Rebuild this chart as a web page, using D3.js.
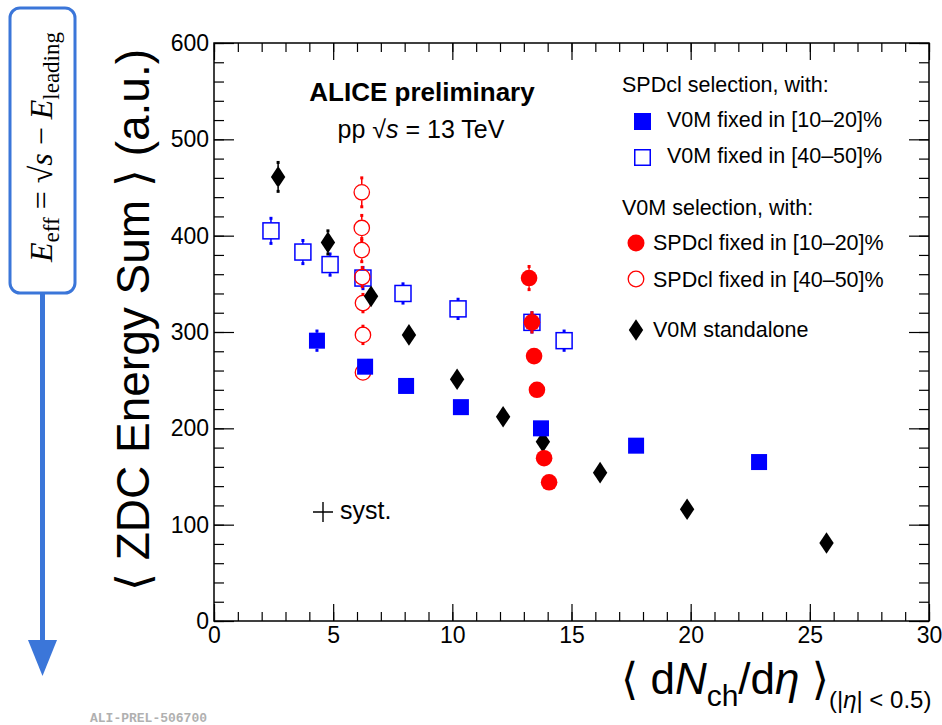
<!DOCTYPE html>
<html>
<head>
<meta charset="utf-8">
<script src="https://cdn.jsdelivr.net/npm/d3@7"></script>
<style>
  body { margin: 0; background: #fff; }
  svg text { font-family: "Liberation Sans", Arial, sans-serif; }
</style>
</head>
<body>
<svg id="chart" width="942" height="725"></svg>
<script>
//
// data
//

// SPDcl selection, V0M fixed in [10-20]%  (filled blue squares)
var blueFillX = [4.32, 6.34, 8.06, 10.36, 13.72, 17.71, 22.87];
var blueFillY = [291, 264, 244, 222, 200, 182, 165];
var blueFillE = [10, 8, 6, 6, 6, 6, 6];

// SPDcl selection, V0M fixed in [40-50]%  (open blue squares)
var blueOpenX = [2.39, 3.73, 4.87, 6.25, 7.93, 10.24, 13.34, 14.69];
var blueOpenY = [405, 383, 370, 356, 340, 324, 310, 291];
var blueOpenE = [13, 12, 11, 11, 10, 10, 10, 10];

// V0M selection, SPDcl fixed in [10-20]%  (filled red circles)
var redFillX = [13.22, 13.34, 13.43, 13.55, 13.85, 14.06];
var redFillY = [356, 310, 275, 240, 169, 144];
var redFillE = [12, 10, 8, 6, 5, 5];

// V0M selection, SPDcl fixed in [40-50]%  (open red circles)
var redOpenX = [6.2, 6.2, 6.2, 6.22, 6.25, 6.25, 6.25];
var redOpenY = [445, 408, 385, 357, 330, 297, 258];
var redOpenE = [15, 13, 12, 10, 9, 9, 8];

// V0M standalone  (black diamonds)
var blackX = [2.69, 4.78, 6.59, 8.18, 10.2, 12.13, 13.8, 16.2, 19.85, 25.7];
var blackY = [461, 393, 337, 297, 251, 212, 186, 154, 116, 81];
var blackE = [15, 12, 8, 6, 6, 5, 4, 4, 4, 4];

var xTicks = [0, 5, 10, 15, 20, 25, 30];
var yTicks = [0, 100, 200, 300, 400, 500, 600];

//
// layout
//

var svg = d3.select("#chart");
var padL = 214, padR = 929, padT = 43, padB = 621;

var x = d3.scaleLinear().domain([0, 30]).range([padL, padR]);
var y = d3.scaleLinear().domain([0, 600]).range([padB, padT]);

var BLUE = "#0000ff", RED = "#ff0000";

// frame
svg.append("rect")
  .attr("x", padL).attr("y", padT)
  .attr("width", padR - padL).attr("height", padB - padT)
  .attr("fill", "none").attr("stroke", "#000").attr("stroke-width", 1.5);

function styleAxis(g) {
  g.select(".domain").remove();
  g.selectAll("line").attr("stroke", "#000").attr("stroke-width", 1.2);
  g.selectAll("text").attr("font-size", 23).attr("fill", "#000")
    .style("font-family", "Liberation Sans, Arial, sans-serif");
}

// minor ticks
var xMinor = d3.range(0, 31, 1), yMinor = d3.range(0, 601, 20);
svg.append("g").attr("transform", "translate(0," + padB + ")")
  .call(d3.axisBottom(x).tickValues(xMinor).tickSize(-9).tickFormat(""))
  .call(styleAxis);
svg.append("g").attr("transform", "translate(0," + padT + ")")
  .call(d3.axisTop(x).tickValues(xMinor).tickSize(-9).tickFormat(""))
  .call(styleAxis);
svg.append("g").attr("transform", "translate(" + padL + ",0)")
  .call(d3.axisLeft(y).tickValues(yMinor).tickSize(-10).tickFormat(""))
  .call(styleAxis);
svg.append("g").attr("transform", "translate(" + padR + ",0)")
  .call(d3.axisRight(y).tickValues(yMinor).tickSize(-10).tickFormat(""))
  .call(styleAxis);

// major ticks + labels
svg.append("g").attr("transform", "translate(0," + padB + ")")
  .call(d3.axisBottom(x).tickValues(xTicks).tickSize(-17).tickPadding(6))
  .call(styleAxis);
svg.append("g").attr("transform", "translate(0," + padT + ")")
  .call(d3.axisTop(x).tickValues(xTicks).tickSize(-17).tickFormat(""))
  .call(styleAxis);
svg.append("g").attr("transform", "translate(" + padL + ",0)")
  .call(d3.axisLeft(y).tickValues(yTicks).tickSize(-20).tickPadding(5))
  .call(styleAxis);
svg.append("g").attr("transform", "translate(" + padR + ",0)")
  .call(d3.axisRight(y).tickValues(yTicks).tickSize(-20).tickFormat(""))
  .call(styleAxis);

//
// markers
//

function zip(xs, ys, es) {
  return xs.map(function(v, i) { return { x: v, y: ys[i], e: es[i] }; });
}

function errorBars(data, color, half) {
  var g = svg.append("g");
  data.forEach(function(d) {
    var cy = y(d.y), y1 = y(d.y + d.e), y2 = y(d.y - d.e), cx = x(d.x);
    if (cy - y1 > half) {
      g.append("line").attr("x1", cx).attr("x2", cx)
        .attr("y1", y1).attr("y2", cy - half)
        .attr("stroke", color).attr("stroke-width", 1.5);
      g.append("rect").attr("x", cx - 1.5).attr("y", y1 - 1.5).attr("width", 3).attr("height", 3).attr("fill", color);
    }
    if (y2 - cy > half) {
      g.append("line").attr("x1", cx).attr("x2", cx)
        .attr("y1", cy + half).attr("y2", y2)
        .attr("stroke", color).attr("stroke-width", 1.5);
      g.append("rect").attr("x", cx - 1.5).attr("y", y2 - 1.5).attr("width", 3).attr("height", 3).attr("fill", color);
    }
  });
}

var sq = 16, circR = 8.3;

function squares(data, color, filled) {
  errorBars(data, color, sq / 2);
  svg.append("g").selectAll("rect").data(data).join("rect")
    .attr("x", function(d) { return x(d.x) - sq / 2; })
    .attr("y", function(d) { return y(d.y) - sq / 2; })
    .attr("width", sq).attr("height", sq)
    .attr("fill", filled ? color : "none")
    .attr("stroke", color).attr("stroke-width", filled ? 0 : 1.5);
}

function circles(data, color, filled) {
  errorBars(data, color, circR);
  svg.append("g").selectAll("circle").data(data).join("circle")
    .attr("cx", function(d) { return x(d.x); })
    .attr("cy", function(d) { return y(d.y); })
    .attr("r", filled ? circR : circR - 0.6)
    .attr("fill", filled ? color : "none")
    .attr("stroke", color).attr("stroke-width", filled ? 0 : 1.3);
}

function diamondPath(cx, cy) {
  var w = 7.2, h = 10.8;
  return "M" + cx + "," + (cy - h) + "L" + (cx + w) + "," + cy +
    "L" + cx + "," + (cy + h) + "L" + (cx - w) + "," + cy + "Z";
}

function diamonds(data) {
  errorBars(data, "#000", 10);
  svg.append("g").selectAll("path").data(data).join("path")
    .attr("d", function(d) { return diamondPath(x(d.x), y(d.y)); })
    .attr("fill", "#000");
}

squares(zip(blueOpenX, blueOpenY, blueOpenE), BLUE, false);
circles(zip(redOpenX, redOpenY, redOpenE), RED, false);
diamonds(zip(blackX, blackY, blackE));
squares(zip(blueFillX, blueFillY, blueFillE), BLUE, true);
circles(zip(redFillX, redFillY, redFillE), RED, true);

//
// texts in the pad
//

svg.append("text").attr("x", 422).attr("y", 101)
  .attr("text-anchor", "middle").attr("font-size", 26).attr("font-weight", "bold")
  .text("ALICE preliminary");

var pp = svg.append("text").attr("x", 421).attr("y", 138)
  .attr("text-anchor", "middle").attr("font-size", 25);
pp.append("tspan").text("pp  √");
pp.append("tspan").attr("font-style", "italic").text("s");
pp.append("tspan").text(" = 13 TeV");

// legend
var leg = svg.append("g").attr("font-size", 21.5);
leg.append("text").attr("x", 622).attr("y", 92).text("SPDcl selection, with:");
leg.append("rect").attr("x", 634).attr("y", 113).attr("width", 17).attr("height", 17).attr("fill", BLUE);
leg.append("text").attr("x", 667).attr("y", 127).text("V0M fixed in [10\u201320]%");
leg.append("rect").attr("x", 634.75).attr("y", 149.75).attr("width", 15.5).attr("height", 15.5)
  .attr("fill", "none").attr("stroke", BLUE).attr("stroke-width", 1.5);
leg.append("text").attr("x", 667).attr("y", 163).text("V0M fixed in [40\u201350]%");

leg.append("text").attr("x", 622).attr("y", 215).text("V0M selection, with:");
leg.append("circle").attr("cx", 636).attr("cy", 243).attr("r", 8.5).attr("fill", RED);
leg.append("text").attr("x", 653).attr("y", 250).text("SPDcl fixed in [10\u201320]%");
leg.append("circle").attr("cx", 636).attr("cy", 279).attr("r", 7.8)
  .attr("fill", "none").attr("stroke", RED).attr("stroke-width", 1.3);
leg.append("text").attr("x", 653).attr("y", 287).text("SPDcl fixed in [40\u201350]%");
leg.append("path").attr("d", diamondPath(636, 330)).attr("fill", "#000");
leg.append("text").attr("x", 653).attr("y", 337).text("V0M standalone");

// syst. marker
svg.append("path").attr("d", "M313,512H333M323,502V522")
  .attr("stroke", "#000").attr("stroke-width", 1.4);
svg.append("text").attr("x", 340).attr("y", 519).attr("font-size", 25).text("syst.");

//
// axis titles
//

var yt = svg.append("text")
  .attr("transform", "translate(149,320) rotate(-90)")
  .attr("text-anchor", "middle").attr("font-size", 46);
yt.append("tspan").style("font-family", "DejaVu Sans").text("\u27E8");
yt.append("tspan").text(" ZDC Energy Sum ");
yt.append("tspan").style("font-family", "DejaVu Sans").text("\u27E9");
yt.append("tspan").text(" (a.u.)");

var xt = svg.append("text").attr("x", 621).attr("y", 694).attr("font-size", 44);
xt.append("tspan").style("font-family", "DejaVu Sans").text("\u27E8");
xt.append("tspan").text(" d");
xt.append("tspan").attr("font-style", "italic").text("N");
xt.append("tspan").attr("font-size", 30).attr("dy", 12).text("ch");
xt.append("tspan").attr("dy", -12).text("/d");
xt.append("tspan").attr("font-style", "italic").text("\u03B7");
xt.append("tspan").text(" ");
xt.append("tspan").style("font-family", "DejaVu Sans").text("\u27E9");
xt.append("tspan").attr("font-size", 24).attr("dy", 14).text("(|");
xt.append("tspan").attr("font-size", 24).attr("font-style", "italic").text("\u03B7");
xt.append("tspan").attr("font-size", 24).text("| < 0.5)");

// figure id
svg.append("text").attr("x", 90).attr("y", 722)
  .attr("font-size", 13).attr("font-weight", "bold").attr("fill", "#b0b0b0")
  .style("font-family", "Liberation Mono, monospace")
  .text("ALI-PREL-506700");

//
// energy annotation box with arrow
//

var ABLUE = "#3b76d9";
svg.append("rect").attr("x", 10).attr("y", 8).attr("width", 65).attr("height", 285)
  .attr("rx", 10).attr("fill", "#fff").attr("stroke", ABLUE).attr("stroke-width", 3);
svg.append("line").attr("x1", 42.5).attr("x2", 42.5).attr("y1", 293).attr("y2", 642)
  .attr("stroke", ABLUE).attr("stroke-width", 5);
svg.append("path").attr("d", "M28,640L57,640L42.5,676Z").attr("fill", ABLUE);

var et = svg.append("text")
  .attr("transform", "translate(52,147) rotate(-90)")
  .attr("text-anchor", "middle").attr("font-size", 32)
  .style("font-family", "Liberation Serif, DejaVu Serif, serif");
et.append("tspan").attr("font-style", "italic").text("E");
et.append("tspan").attr("font-size", 23).attr("dy", 7).text("eff");
et.append("tspan").attr("dy", -7).text(" = \u221A");
et.append("tspan").attr("font-style", "italic").text("s");
et.append("tspan").text(" \u2212 ");
et.append("tspan").attr("font-style", "italic").text("E");
et.append("tspan").attr("font-size", 23).attr("dy", 7).text("leading");
</script>
</body>
</html>
